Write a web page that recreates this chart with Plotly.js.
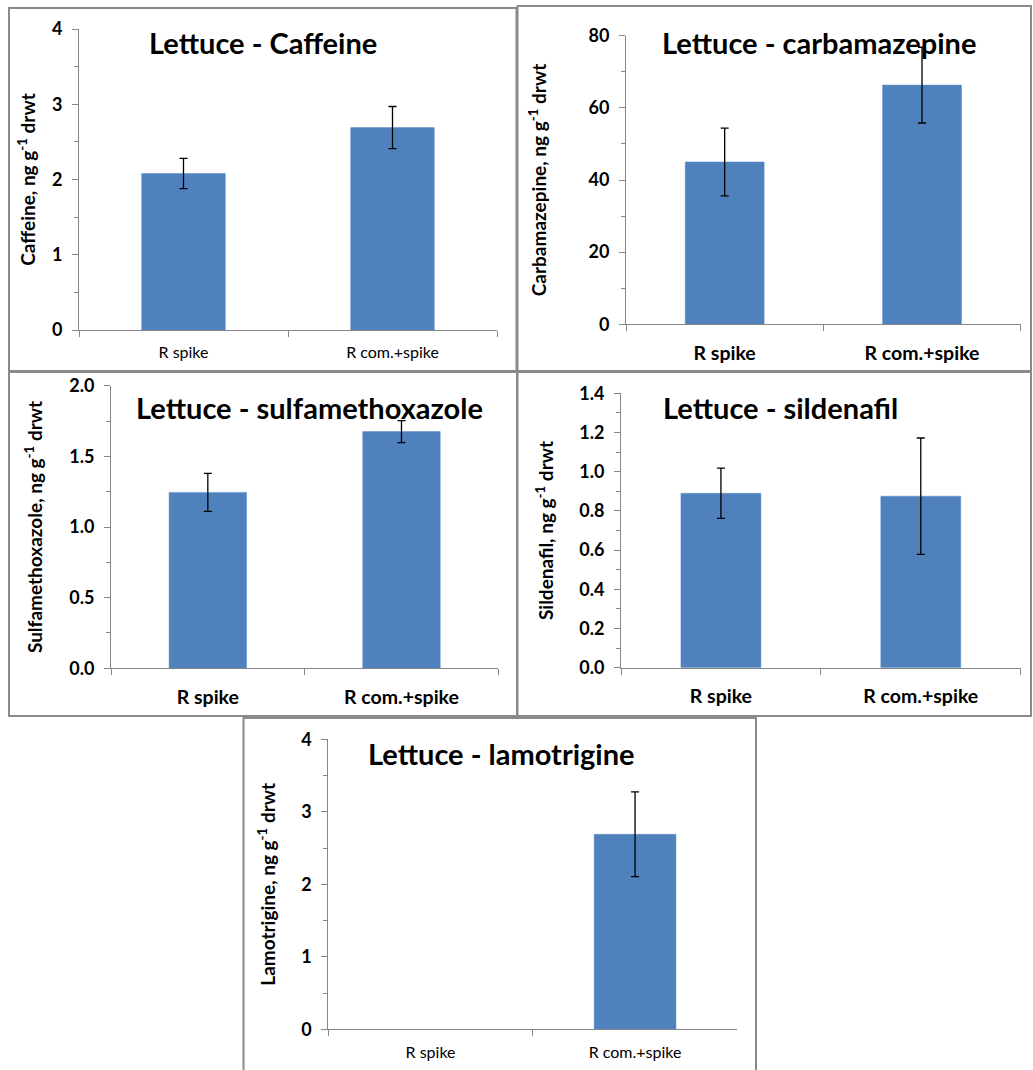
<!DOCTYPE html>
<html>
<head>
<meta charset="utf-8">
<script src="https://cdn.plot.ly/plotly-3.0.1.min.js"></script>
<style>html,body{margin:0;padding:0;background:#fff;}#chart{width:1033px;height:1070px;}</style>
</head>
<body>
<div id="chart"></div>
<script>
// ---- data ----
const categories = ['R spike', 'R com.+spike'];
const caffeine = [2.08, 2.69];
const caffeineErr = [0.20, 0.28];
const carbamazepine = [45.0, 66.3];
const carbamazepineErr = [9.4, 10.5];
const sulfamethoxazole = [1.245, 1.675];
const sulfamethoxazoleErr = [0.135, 0.078];
const sildenafil = [0.89, 0.875];
const sildenafilErr = [0.128, 0.297];
const lamotrigine = [null, 2.69];
const lamotrigineErr = [null, 0.585];

const titles = ['Lettuce - Caffeine', 'Lettuce - carbamazepine', 'Lettuce - sulfamethoxazole', 'Lettuce - sildenafil', 'Lettuce - lamotrigine'];
const yTitles = ['Caffeine, ng g<sup>-1</sup> drwt', 'Carbamazepine, ng g<sup>-1</sup> drwt', 'Sulfamethoxazole, ng g<sup>-1</sup> drwt', 'Sildenafil, ng g<sup>-1</sup> drwt', 'Lamotrigine, ng g<sup>-1</sup> drwt'];

// ---- layout geometry (pixels) ----
const W = 1033, H = 1070;
const fx = p => p / W;
const fy = p => 1 - p / H;

const panels = [
  {vals: caffeine, err: caffeineErr, x: [79, 497], y: [29, 330], max: 4, dtick: 1, minor: 0.5, fmt: '', catBold: false, title: [263, 42], ytStand: 11},
  {vals: carbamazepine, err: carbamazepineErr, x: [626, 1020.7], y: [35.7, 324.3], max: 80, dtick: 20, minor: 10, fmt: '', catBold: true, title: [819, 42], ytStand: 36},
  {vals: sulfamethoxazole, err: sulfamethoxazoleErr, x: [111, 498.3], y: [385.7, 668.3], max: 2, dtick: 0.5, minor: 0.25, fmt: '.1f', catBold: true, title: [309, 407], ytStand: 21},
  {vals: sildenafil, err: sildenafilErr, x: [621, 1020.7], y: [393.3, 667.7], max: 1.4, dtick: 0.2, minor: 0.1, fmt: '.1f', catBold: true, title: [780, 407], ytStand: 20},
  {vals: lamotrigine, err: lamotrigineErr, x: [328.3, 737.3], y: [739.3, 1029.3], max: 4, dtick: 1, minor: 0.5, fmt: '', catBold: false, title: [501, 753], ytStand: 20}
];

const FONT = 'Lato, "Open Sans", sans-serif';
const AX = '#868686';
const data = [];
const layout = {
  width: W, height: H,
  margin: {l: 0, r: 0, t: 0, b: 0},
  paper_bgcolor: '#ffffff', plot_bgcolor: 'rgba(0,0,0,0)',
  showlegend: false,
  font: {family: FONT, size: 16, color: '#000'},
  annotations: [], shapes: []
};

panels.forEach((p, i) => {
  const n = i === 0 ? '' : String(i + 1);
  data.push({
    type: 'bar', x: categories, y: p.vals,
    xaxis: 'x' + n, yaxis: 'y' + n,
    width: 0.4,
    marker: {color: '#4F81BD', line: {color: '#5B8DC8', width: 0.5}},
    error_y: {type: 'data', array: p.err, visible: true, color: '#000', thickness: 1.3, width: 4},
    hoverinfo: 'skip'
  });
  layout['xaxis' + n] = {
    domain: [fx(p.x[0]), fx(p.x[1])],
    anchor: 'y' + n, type: 'category', range: [-0.5, 1.5],
    showline: true, linecolor: AX, linewidth: 1,
    ticks: 'outside', tickson: 'boundaries', ticklen: 6, tickcolor: AX,
    showgrid: false, zeroline: false, fixedrange: true,
    ticklabelstandoff: p.catBold ? 11 : 8,
    tickfont: {family: FONT, size: p.catBold ? 19.5 : 16, weight: p.catBold ? 'bold' : 'normal', color: '#000'}
  };
  layout['yaxis' + n] = {
    domain: [fy(p.y[1]), fy(p.y[0])],
    anchor: 'x' + n, range: [0, p.max],
    dtick: p.dtick, tick0: 0, tickformat: p.fmt,
    showline: true, linecolor: AX, linewidth: 1,
    ticks: 'outside', ticklen: 6, tickcolor: AX,
    minor: {dtick: p.minor, ticks: 'outside', ticklen: 4, tickcolor: AX, showgrid: false},
    showgrid: false, zeroline: false, fixedrange: true,
    ticklabelstandoff: 6,
    tickfont: {family: FONT, size: 18, weight: 'bold', color: '#000'},
    title: {text: yTitles[i], standoff: p.ytStand, font: {family: FONT, size: 19, weight: 'bold', color: '#000'}},
    automargin: false
  };
  layout.annotations.push({
    xref: 'paper', yref: 'paper', x: fx(p.title[0]), y: fy(p.title[1]),
    xanchor: 'center', yanchor: 'middle', showarrow: false,
    text: titles[i], font: {family: FONT, size: 29, weight: 'bold', color: '#000'}
  });
});

// panel borders
const borders = [[9, 8, 516.5, 371], [517.5, 6, 1031, 371], [9, 372, 517, 716], [517.5, 372, 1031, 716], [243.5, 718, 756, 1075]];
borders.forEach(b => {
  layout.shapes.push({type: 'rect', xref: 'paper', yref: 'paper', x0: fx(b[0]), x1: fx(b[2]), y0: fy(b[3]), y1: fy(b[1]),
    line: {color: '#8a8a8a', width: 2}, fillcolor: 'rgba(0,0,0,0)', layer: 'below'});
});

Plotly.newPlot('chart', data, layout, {staticPlot: true, displayModeBar: false});
</script>
</body>
</html>
